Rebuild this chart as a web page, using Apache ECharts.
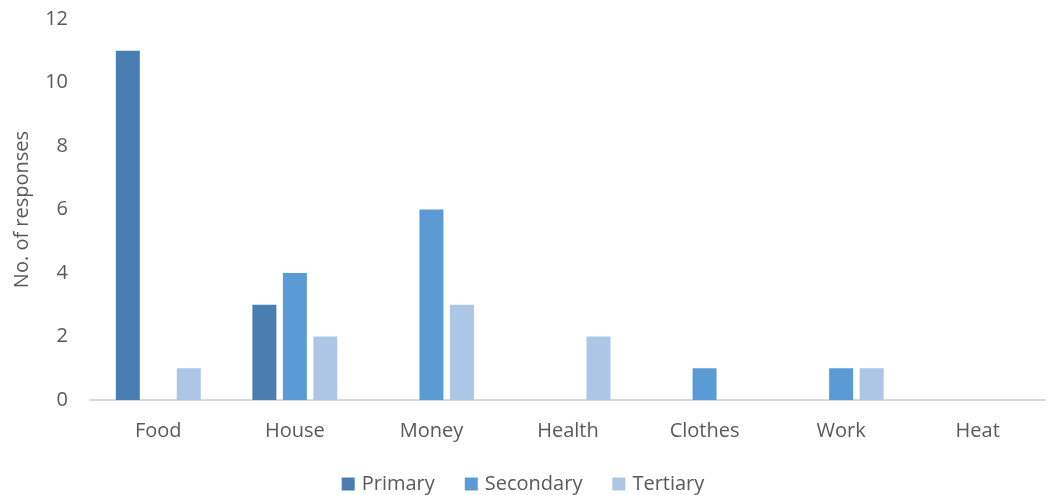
<!DOCTYPE html>
<html><head><meta charset="utf-8">
<script src="https://cdn.jsdelivr.net/npm/echarts@6/dist/echarts.min.js"></script>
<style>html,body{margin:0;padding:0;background:#fff}#c{width:1046px;height:495px}</style>
</head><body><div id="c"></div>
<script>
const categories = ['Food','House','Money','Health','Clothes','Work','Heat'];
const primary = [11,3,0,0,0,0,0];
const secondary = [0,4,6,0,1,1,0];
const tertiary = [1,2,3,2,0,1,0];
const yTicks = {min:0, max:12, interval:2};
const font = '"Open Sans", sans-serif';
const txt = '#595959';
const chart = echarts.init(document.getElementById('c'));
function s(name, data, color){
  return {name, type:'bar', data, barWidth:24, barGap:'27%',
    itemStyle:{color, borderWidth:0}};
}
chart.setOption({
  animation:false,
  textStyle:{fontFamily:font},
  grid:{left:90, top:19, width:962, height:381, containLabel:false},
  legend:{top:474, left:'center', padding:0, itemWidth:13, itemHeight:13, itemGap:30, icon:'rect',
    textStyle:{color:txt, fontSize:20, fontFamily:font, padding:[0,0,0,2]}},
  xAxis:{type:'category', data:categories,
    axisLine:{lineStyle:{color:'#d9d9d9', width:2}}, axisTick:{show:false},
    axisLabel:{color:txt, fontSize:20, margin:21, fontFamily:font}},
  yAxis:{type:'value', min:yTicks.min, max:yTicks.max, interval:yTicks.interval,
    name:'No. of responses', nameLocation:'middle', nameGap:58, nameRotate:90,
    nameTextStyle:{color:txt, fontSize:20, fontFamily:font},
    axisLine:{show:false}, axisTick:{show:false}, splitLine:{show:false},
    axisLabel:{color:txt, fontSize:20, margin:22, fontFamily:font}},
  series:[s('Primary',primary,'#4a7eb0'), s('Secondary',secondary,'#5b9bd5'), s('Tertiary',tertiary,'#adc6e6')]
});
</script></body></html>
